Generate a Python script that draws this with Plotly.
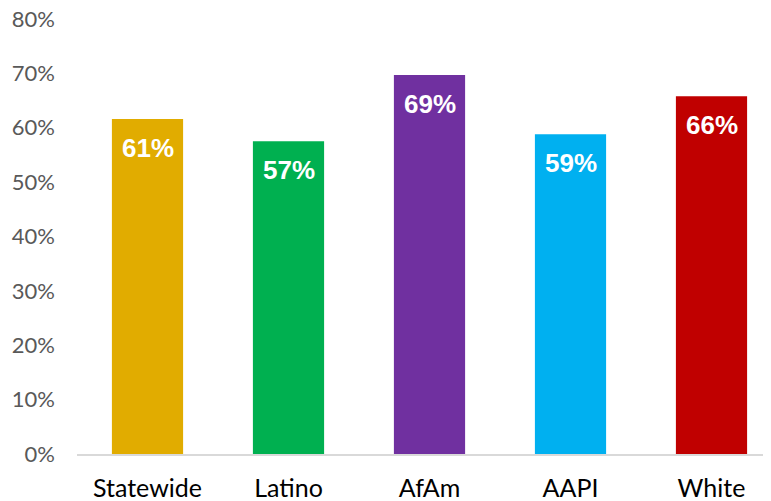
import plotly.graph_objects as go

categories = ["Statewide", "Latino", "AfAm", "AAPI", "White"]
values = [61.6, 57.5, 69.7, 58.8, 65.8]
labels = ["61%", "57%", "69%", "59%", "66%"]
colors = ["#E1AC00", "#00B050", "#7030A0", "#00B0F0", "#C00000"]
y_ticks = [0, 10, 20, 30, 40, 50, 60, 70, 80]
y_tick_text = ["0%", "10%", "20%", "30%", "40%", "50%", "60%", "70%", "80%"]

fig = go.Figure()
fig.add_trace(go.Bar(
    x=categories, y=values, marker=dict(color=colors, line=dict(width=0)),
    width=0.505, hoverinfo="skip",
))

for c, v, t in zip(categories, values, labels):
    fig.add_annotation(
        x=c, y=v, text=t, showarrow=False, yanchor="middle", yshift=-29,
        font=dict(family="Liberation Sans, Arial", size=26, color="white", weight="bold"),
    )

fig.update_layout(
    width=763, height=493,
    margin=dict(l=69, r=0, t=11, b=47, autoexpand=False),
    plot_bgcolor="white", paper_bgcolor="white",
    showlegend=False,
    xaxis=dict(
        range=[-0.5, 4.422], showline=True, linecolor="#D9D9D9", linewidth=2,
        ticks="", showgrid=False, zeroline=False,
        tickfont=dict(family="Lato", size=25, color="#000000"),
        ticklabelstandoff=11, ticklabeloverflow="allow",
    ),
    yaxis=dict(
        range=[0, 80], tickvals=y_ticks, ticktext=y_tick_text,
        showgrid=False, zeroline=False, showline=False, ticks="",
        tickfont=dict(family="Lato", size=22, color="#595959"),
        ticklabelstandoff=21, ticklabeloverflow="allow",
    ),
)

fig.write_html("out.html")
